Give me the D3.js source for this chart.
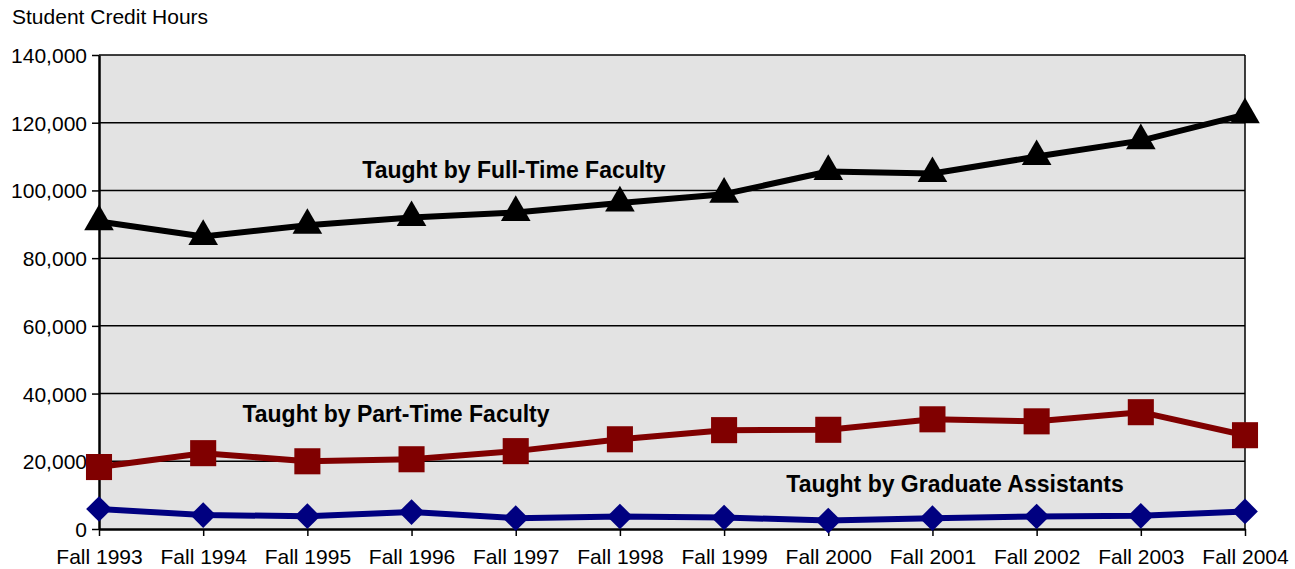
<!DOCTYPE html>
<html>
<head>
<meta charset="utf-8">
<script src="https://cdn.jsdelivr.net/npm/d3@7"></script>
<style>
  html, body { margin: 0; padding: 0; background: #fff; }
  svg text { font-family: "Liberation Sans", Arial, sans-serif; fill: #000; }
  .tick text { font-size: 21px; }
  .note { font-size: 23px; font-weight: bold; }
</style>
</head>
<body>
<div id="chart"></div>
<script>
const years = ["Fall 1993", "Fall 1994", "Fall 1995", "Fall 1996", "Fall 1997", "Fall 1998",
               "Fall 1999", "Fall 2000", "Fall 2001", "Fall 2002", "Fall 2003", "Fall 2004"];

const fullTime = [90800, 86400, 89700, 92000, 93500, 96300, 98900, 105600, 105000, 110000, 114700, 122400];
const partTime = [18300, 22400, 20000, 20600, 23000, 26500, 29200, 29300, 32400, 31800, 34500, 27700];
const gradAsst = [5900, 4100, 3800, 5000, 3200, 3700, 3400, 2500, 3200, 3700, 3900, 5200];

const yTicks = [0, 20000, 40000, 60000, 80000, 100000, 120000, 140000];

const W = 1295, H = 569;
const MARGIN = { top: 55, right: 50, bottom: 40, left: 99 };
const chartWidth = W - MARGIN.left - MARGIN.right;
const chartHeight = H - MARGIN.top - MARGIN.bottom;

const svg = d3.select("#chart").append("svg")
  .attr("width", W).attr("height", H);

const g = svg.append("g")
  .attr("transform", `translate(${MARGIN.left},${MARGIN.top})`);

const x = d3.scalePoint().domain(years).range([0, chartWidth]);
const y = d3.scaleLinear().domain([0, 140000]).range([chartHeight, 0]);

// plot background
g.append("rect")
  .attr("width", chartWidth).attr("height", chartHeight)
  .attr("fill", "#e3e3e3");

// gridlines
g.append("g")
  .selectAll("line")
  .data(yTicks.filter(d => d > 0))
  .join("line")
  .attr("x1", 0).attr("x2", chartWidth)
  .attr("y1", d => y(d)).attr("y2", d => y(d))
  .attr("stroke", "#000").attr("stroke-width", 1.5);

// right border
g.append("line")
  .attr("x1", chartWidth).attr("x2", chartWidth)
  .attr("y1", 0).attr("y2", chartHeight)
  .attr("stroke", "#000").attr("stroke-width", 1.5);

// axes
g.append("g")
  .call(d3.axisLeft(y).tickValues(yTicks).tickFormat(d3.format(",")).tickSizeInner(7).tickSizeOuter(0).tickPadding(5))
  .call(a => a.select(".domain").attr("stroke-width", 2.5))
  .call(a => a.selectAll(".tick line").attr("stroke-width", 1.5))
  .call(a => a.selectAll(".tick text").attr("dy", "0.36em"));

g.append("g")
  .attr("transform", `translate(0,${chartHeight})`)
  .call(d3.axisBottom(x).tickSizeInner(7).tickSizeOuter(0).tickPadding(13))
  .call(a => a.select(".domain").attr("stroke-width", 2.5))
  .call(a => a.selectAll(".tick line").attr("stroke-width", 1.5));

svg.append("text")
  .attr("x", 12).attr("y", 24)
  .attr("font-size", 21)
  .text("Student Credit Hours");

const series = [
  { values: fullTime, color: "#000000", symbol: d3.symbolTriangle, size: 380, rot: 0 },
  { values: partTime, color: "#800000", symbol: d3.symbolSquare, size: 680, rot: 0 },
  { values: gradAsst, color: "#000080", symbol: d3.symbolSquare, size: 330, rot: 45 }
];

const line = d3.line()
  .x((d, i) => x(years[i]))
  .y(d => y(d));

series.forEach(s => {
  g.append("path")
    .attr("d", line(s.values))
    .attr("fill", "none")
    .attr("stroke", s.color)
    .attr("stroke-width", 6)
    .attr("stroke-linejoin", "round");

  g.append("g")
    .selectAll("path")
    .data(s.values)
    .join("path")
    .attr("transform", (d, i) => `translate(${x(years[i])},${y(d)}) rotate(${s.rot})`)
    .attr("d", d3.symbol().type(s.symbol).size(s.size))
    .attr("fill", s.color);
});

const notes = [
  { text: "Taught by Full-Time Faculty", cx: 514, cy: 178 },
  { text: "Taught by Part-Time Faculty", cx: 396, cy: 422 },
  { text: "Taught by Graduate Assistants", cx: 955, cy: 492 }
];

svg.append("g")
  .selectAll("text")
  .data(notes)
  .join("text")
  .attr("class", "note")
  .attr("x", d => d.cx).attr("y", d => d.cy)
  .attr("text-anchor", "middle")
  .text(d => d.text);
</script>
</body>
</html>
